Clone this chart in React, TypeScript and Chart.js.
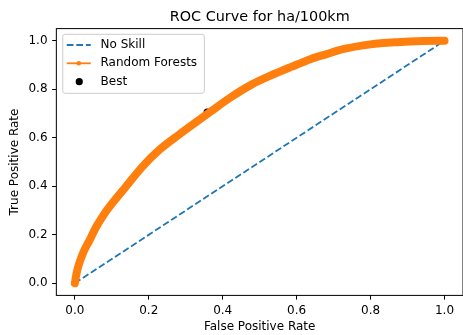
import React, { useEffect, useRef } from "react";
import { Chart, registerables } from "chart.js";

Chart.register(...registerables);

// ---- data ----
const titleText = "ROC Curve for ha/100km";
const xAxisLabel = "False Positive Rate";
const yAxisLabel = "True Positive Rate";
const seriesLabels = ["No Skill", "Random Forests", "Best"];
const tickValues = [0, 0.2, 0.4, 0.6, 0.8, 1.0];

const noSkillFpr = [0, 1];
const noSkillTpr = [0, 1];

const rfFpr = [
  0.0, 0.004, 0.009, 0.022, 0.04, 0.058, 0.08, 0.105, 0.139, 0.183, 0.228, 0.281,
  0.333, 0.362, 0.424, 0.478, 0.532, 0.585, 0.639, 0.679, 0.728, 0.8, 0.871, 0.943, 1.0,
];
const rfTpr = [
  0.0, 0.035, 0.068, 0.124, 0.178, 0.233, 0.287, 0.337, 0.4, 0.481, 0.549, 0.612,
  0.67, 0.702, 0.769, 0.819, 0.858, 0.892, 0.925, 0.944, 0.966, 0.985, 0.994, 0.999, 1.0,
];

const bestFpr = [0.358];
const bestTpr = [0.706];

// ---- styling ----
const FONT = "'DejaVu Sans', sans-serif";
const BLUE = "#1f77b4";
const ORANGE = "#ff7f0e";

const zip = (xs: number[], ys: number[]) => xs.map((x, i) => ({ x, y: ys[i] }));

const spinesPlugin = {
  id: "mplSpines",
  afterDatasetsDraw(chart: any) {
    const { ctx, chartArea: ca } = chart;
    ctx.save();
    ctx.strokeStyle = "#000";
    ctx.lineWidth = 1;
    ctx.strokeRect(ca.left, ca.top, ca.right - ca.left, ca.bottom - ca.top);
    ctx.restore();
  },
};

const legendPlugin = {
  id: "mplLegend",
  afterDraw(chart: any) {
    const { ctx, chartArea: ca } = chart;
    const ds = chart.data.datasets;
    const bx = ca.left + 6.4;
    const by = ca.top + 5.7;
    const bw = 141.6;
    const bh = 59;
    const r = 2.4;
    ctx.save();
    ctx.beginPath();
    ctx.moveTo(bx + r, by);
    ctx.lineTo(bx + bw - r, by);
    ctx.arcTo(bx + bw, by, bx + bw, by + r, r);
    ctx.lineTo(bx + bw, by + bh - r);
    ctx.arcTo(bx + bw, by + bh, bx + bw - r, by + bh, r);
    ctx.lineTo(bx + r, by + bh);
    ctx.arcTo(bx, by + bh, bx, by + bh - r, r);
    ctx.lineTo(bx, by + r);
    ctx.arcTo(bx, by, bx + r, by, r);
    ctx.closePath();
    ctx.fillStyle = "rgba(255,255,255,0.8)";
    ctx.fill();
    ctx.strokeStyle = "#cccccc";
    ctx.lineWidth = 1;
    ctx.stroke();

    const rows = [by + 10.7, by + 29, by + 47.4];
    const hx0 = bx + 4;
    const hx1 = bx + 28;
    const hxm = (hx0 + hx1) / 2;
    const tx = bx + 37.8;

    ds.forEach((d: any, i: number) => {
      const y = rows[i];
      if (d.legendKind === "line") {
        ctx.beginPath();
        ctx.setLineDash(d.borderDash || []);
        ctx.lineDashOffset = 0;
        ctx.strokeStyle = d.borderColor;
        ctx.lineWidth = 1.8;
        ctx.moveTo(hx0, y);
        ctx.lineTo(hx1, y);
        ctx.stroke();
        ctx.setLineDash([]);
        if (d.legendMarker) {
          ctx.beginPath();
          ctx.fillStyle = d.borderColor;
          ctx.arc(hxm, y, 2.3, 0, Math.PI * 2);
          ctx.fill();
        }
      } else {
        ctx.beginPath();
        ctx.fillStyle = d.backgroundColor;
        ctx.arc(hxm + 0.5, y, 3.6, 0, Math.PI * 2);
        ctx.fill();
      }
      ctx.fillStyle = "#000";
      ctx.font = `12px ${FONT}`;
      ctx.textBaseline = "middle";
      ctx.textAlign = "left";
      ctx.fillText(d.label, tx, y);
    });
    ctx.restore();
  },
};

export default function App() {
  const ref = useRef<HTMLCanvasElement | null>(null);

  useEffect(() => {
    if (!ref.current) return;
    const chart = new Chart(ref.current, {
      type: "scatter",
      data: {
        datasets: [
          {
            label: seriesLabels[0],
            data: zip(noSkillFpr, noSkillTpr),
            showLine: true,
            borderColor: BLUE,
            backgroundColor: BLUE,
            borderWidth: 1.8,
            borderDash: [6.7, 2.9],
            pointRadius: 0,
            order: 3,
            legendKind: "line",
          } as any,
          {
            label: seriesLabels[1],
            data: zip(rfFpr, rfTpr),
            showLine: true,
            borderColor: ORANGE,
            backgroundColor: ORANGE,
            borderWidth: 8,
            borderCapStyle: "round",
            borderJoinStyle: "round",
            cubicInterpolationMode: "monotone",
            pointRadius: 0,
            order: 1,
            legendKind: "line",
            legendMarker: true,
          } as any,
          {
            label: seriesLabels[2],
            data: zip(bestFpr, bestTpr),
            showLine: false,
            backgroundColor: "#000",
            borderColor: "#000",
            pointRadius: 3.6,
            pointBorderWidth: 0,
            order: 2,
            legendKind: "dot",
          } as any,
        ],
      },
      options: {
        responsive: false,
        animation: false,
        devicePixelRatio: 1,
        layout: { padding: { left: 0, right: 0.35, top: 0, bottom: 0 } },
        plugins: {
          legend: { display: false },
          tooltip: { enabled: false },
          title: {
            display: true,
            text: titleText,
            fullSize: false,
            color: "#000",
            font: { family: FONT, size: 14.4, weight: "normal", lineHeight: 1.2 },
            padding: { top: 9, bottom: 2.32 },
          },
        },
        scales: {
          x: {
            type: "linear",
            min: -0.05,
            max: 1.05,
            afterBuildTicks: (s: any) => {
              s.ticks = tickValues.map((v) => ({ value: v }));
            },
            afterFit: (s: any) => {
              s.height = 39.6;
            },
            ticks: {
              color: "#000",
              font: { family: FONT, size: 12 },
              padding: 3.7,
              maxRotation: 0,
              callback: (v: any) => Number(v).toFixed(1),
            },
            grid: {
              drawOnChartArea: false,
              drawTicks: true,
              tickLength: 4.2,
              color: "#000",
              lineWidth: 1,
            },
            border: { display: false },
            title: {
              display: true,
              text: xAxisLabel,
              color: "#000",
              font: { family: FONT, size: 12, lineHeight: 1.2 },
              padding: { top: 0, bottom: 0.8 },
            },
          },
          y: {
            type: "linear",
            min: -0.05,
            max: 1.05,
            afterBuildTicks: (s: any) => {
              s.ticks = tickValues.map((v) => ({ value: v }));
            },
            afterFit: (s: any) => {
              s.width = 56.35;
            },
            ticks: {
              color: "#000",
              font: { family: FONT, size: 12 },
              padding: 4.6,
              callback: (v: any) => Number(v).toFixed(1),
            },
            grid: {
              drawOnChartArea: false,
              drawTicks: true,
              tickLength: 4.2,
              color: "#000",
              lineWidth: 1,
            },
            border: { display: false },
            title: {
              display: true,
              text: yAxisLabel,
              color: "#000",
              font: { family: FONT, size: 12, lineHeight: 1.2 },
              padding: { top: 7.8, bottom: 0 },
            },
          },
        },
      },
      plugins: [spinesPlugin, legendPlugin],
    } as any);
    return () => chart.destroy();
  }, []);

  return (
    <div
      style={{
        position: "fixed",
        left: 0,
        top: 0,
        width: 463,
        height: 335,
        overflow: "hidden",
        background: "#fff",
      }}
    >
      <canvas ref={ref} width={467} height={335} style={{ display: "block" }} />
    </div>
  );
}
